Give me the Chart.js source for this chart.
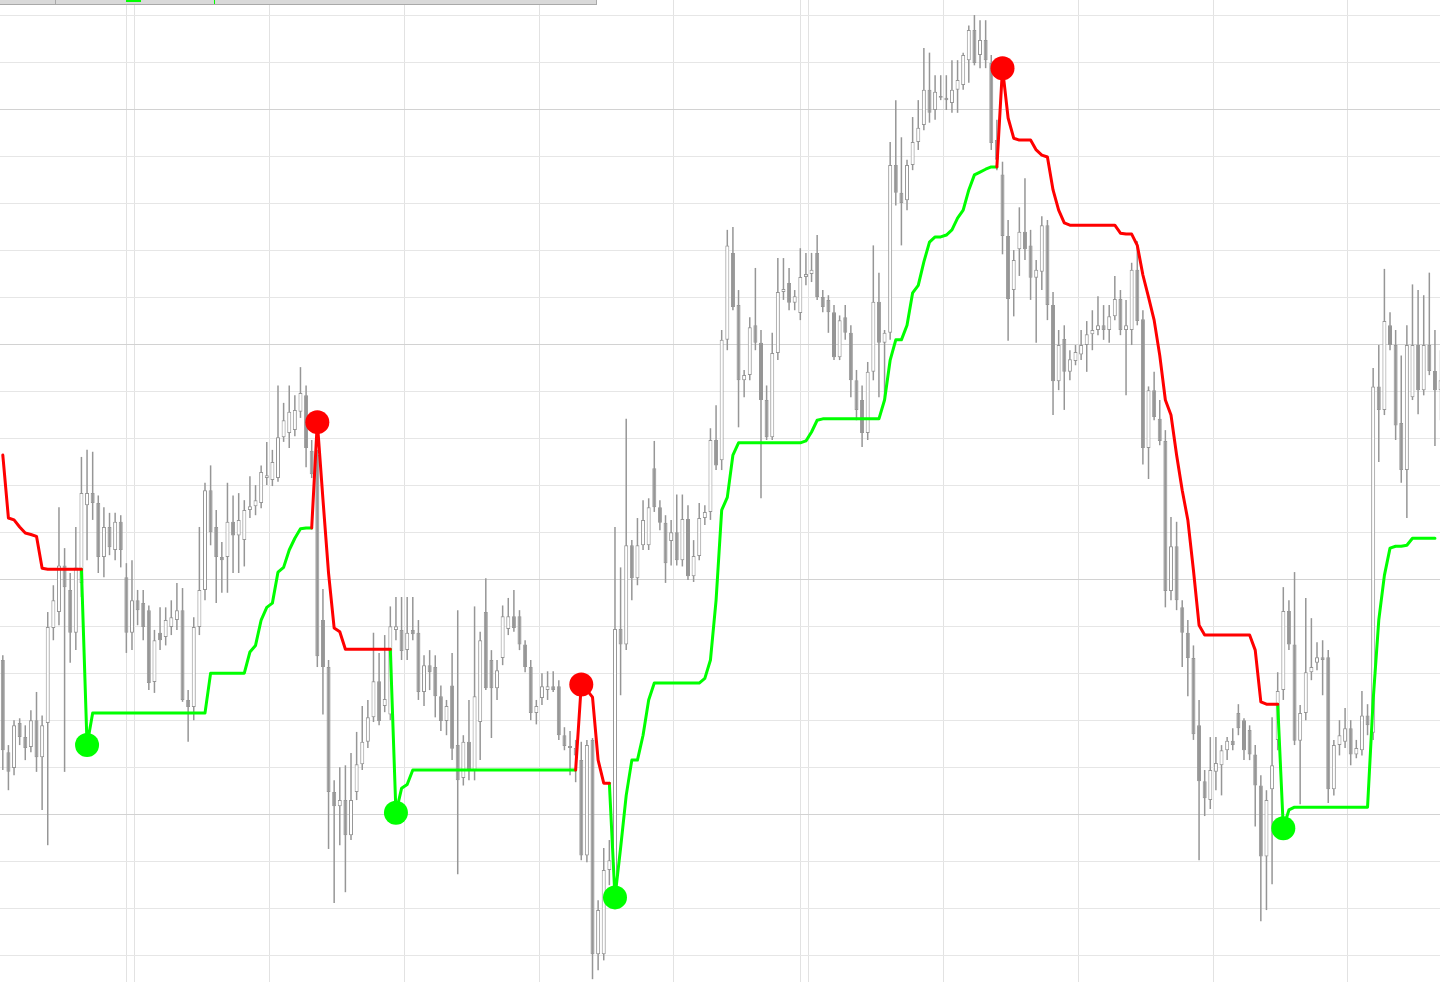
<!DOCTYPE html>
<html>
<head>
<meta charset="utf-8">
<title>Hourly candles with trailing stop</title>
<script src="https://cdn.jsdelivr.net/npm/chart.js@4.4.1/dist/chart.umd.min.js"></script>
<style>
  html, body { margin: 0; padding: 0; background: #ffffff; overflow: hidden; }
  #wrap { position: relative; width: 1440px; height: 982px; }
  #chart { position: absolute; left: 0; top: 0; }
  #toolbar { position: absolute; left: 0; top: 0; width: 596px; height: 4px; background: #d9d9d9;
             border-bottom: 1px solid #a9a9a9; border-right: 1px solid #a9a9a9; }
  #toolbar .sep { position: absolute; top: 0; width: 1px; height: 4px; background: #a9a9a9; }
  #toolbar .mark { position: absolute; top: 0; height: 2px; left: 126px; width: 15px; background: #00ff00; }
  #toolbar .tick { position: absolute; top: 0; left: 214px; width: 1px; height: 4px; background: #00ff00; }
</style>
</head>
<body>
<div id="wrap">
  <canvas id="chart" width="1440" height="982"></canvas>
  <div id="toolbar"><div class="sep" style="left:55px"></div><div class="mark"></div><div class="tick"></div></div>
</div>
<script>
// hourly OHLC, one entry per bar
var open = [
  1.30828, 1.30632, 1.30598, 1.30694, 1.30664, 1.30643, 1.30700, 1.30621, 1.30694, 1.30896,
  1.30930, 1.31029, 1.30977, 1.30886, 1.30992, 1.31157, 1.31183, 1.31162, 1.31047, 1.31111,
  1.31062, 1.31122, 1.31004, 1.30886, 1.30955, 1.30949, 1.30934, 1.30781, 1.30886, 1.30877,
  1.30898, 1.30913, 1.30934, 1.30743, 1.30728, 1.30898, 1.30977, 1.31189, 1.31111, 1.31047,
  1.31047, 1.31122, 1.31093, 1.31083, 1.31147, 1.31155, 1.31162, 1.31215, 1.31211, 1.31215,
  1.31302, 1.31311, 1.31317, 1.31356, 1.31391, 1.31273, 1.31264, 1.30913, 1.30813, 1.30547,
  1.30517, 1.30530, 1.30455, 1.30547, 1.30606, 1.30654, 1.30706, 1.30783, 1.30730, 1.30712,
  1.30892, 1.30892, 1.30849, 1.30892, 1.30886, 1.30760, 1.30817, 1.30813, 1.30751, 1.30698,
  1.30774, 1.30647, 1.30577, 1.30654, 1.30592, 1.30696, 1.30930, 1.30828, 1.30768, 1.30832,
  1.30894, 1.30921, 1.30921, 1.30861, 1.30813, 1.30715, 1.30747, 1.30764, 1.30772, 1.30772,
  1.30668, 1.30645, 1.30641, 1.30615, 1.30412, 1.30658, 1.30202, 1.30202, 1.30381, 1.30360,
  1.30894, 1.30861, 1.31072, 1.31002, 1.31072, 1.31072, 1.31236, 1.31153, 1.31120, 1.31081,
  1.31100, 1.31040, 1.31128, 1.31006, 1.31049, 1.31130, 1.31143, 1.31296, 1.31253, 1.31509,
  1.31694, 1.31583, 1.31423, 1.31434, 1.31540, 1.31503, 1.31381, 1.31302, 1.31481, 1.31611,
  1.31630, 1.31588, 1.31566, 1.31643, 1.31649, 1.31694, 1.31600, 1.31594, 1.31568, 1.31472,
  1.31557, 1.31524, 1.31423, 1.31381, 1.31311, 1.31441, 1.31590, 1.31503, 1.31524, 1.31881,
  1.31822, 1.31806, 1.31881, 1.31930, 1.31966, 1.32041, 1.31998, 1.32028, 1.32024, 1.32013,
  1.32041, 1.32051, 1.32104, 1.32168, 1.32115, 1.32147, 1.32098, 1.31934, 1.31861, 1.31730,
  1.31615, 1.31702, 1.31739, 1.31710, 1.31641, 1.31654, 1.31753, 1.31583, 1.31421, 1.31511,
  1.31441, 1.31464, 1.31478, 1.31498, 1.31521, 1.31530, 1.31540, 1.31530, 1.31559, 1.31596,
  1.31530, 1.31530, 1.31658, 1.31553, 1.31279, 1.31402, 1.31341, 1.31294, 1.30975, 1.31070,
  1.30940, 1.30886, 1.30832, 1.30689, 1.30570, 1.30530, 1.30590, 1.30604, 1.30636, 1.30656,
  1.30715, 1.30700, 1.30679, 1.30627, 1.30561, 1.30410, 1.30553, 1.30658, 1.30764, 1.30932,
  1.30861, 1.30656, 1.30715, 1.30802, 1.30822, 1.30834, 1.30834, 1.30553, 1.30647, 1.30654,
  1.30683, 1.30627, 1.30636, 1.30710, 1.30673, 1.31410, 1.31360, 1.31540, 1.31498, 1.31332,
  1.31232, 1.31387, 1.31498, 1.31402, 1.31498, 1.31443, 1.31402
];
var high = [
  1.30838, 1.30647, 1.30700, 1.30704, 1.30689, 1.30721, 1.30760, 1.30710, 1.30930, 1.30987,
  1.31153, 1.31066, 1.31013, 1.31111, 1.31260, 1.31275, 1.31271, 1.31178, 1.31153, 1.31141,
  1.31141, 1.31136, 1.31034, 1.31040, 1.30977, 1.30977, 1.30944, 1.30892, 1.30940, 1.30940,
  1.30955, 1.30992, 1.30981, 1.30764, 1.30919, 1.31111, 1.31205, 1.31242, 1.31147, 1.31079,
  1.31205, 1.31178, 1.31183, 1.31168, 1.31219, 1.31200, 1.31242, 1.31292, 1.31275, 1.31412,
  1.31375, 1.31412, 1.31391, 1.31451, 1.31412, 1.31296, 1.31275, 1.30979, 1.30828, 1.30572,
  1.30600, 1.30604, 1.30630, 1.30675, 1.30730, 1.30743, 1.30886, 1.30843, 1.30881, 1.30942,
  1.30962, 1.30962, 1.30962, 1.30962, 1.30913, 1.30838, 1.30849, 1.30838, 1.30774, 1.30743,
  1.30843, 1.30934, 1.30668, 1.30743, 1.30942, 1.30888, 1.31002, 1.30849, 1.30828, 1.30944,
  1.30960, 1.30977, 1.30934, 1.30870, 1.30828, 1.30743, 1.30800, 1.30804, 1.30804, 1.30785,
  1.30685, 1.30677, 1.30658, 1.30654, 1.30658, 1.30662, 1.30317, 1.30428, 1.30445, 1.31111,
  1.31025, 1.31341, 1.31083, 1.31130, 1.31168, 1.31172, 1.31294, 1.31168, 1.31136, 1.31126,
  1.31180, 1.31180, 1.31157, 1.31083, 1.31162, 1.31157, 1.31321, 1.31370, 1.31530, 1.31743,
  1.31749, 1.31615, 1.31445, 1.31557, 1.31662, 1.31530, 1.31412, 1.31524, 1.31683, 1.31683,
  1.31662, 1.31615, 1.31704, 1.31694, 1.31694, 1.31732, 1.31615, 1.31604, 1.31583, 1.31561,
  1.31583, 1.31540, 1.31445, 1.31412, 1.31462, 1.31710, 1.31652, 1.31530, 1.31930, 1.32019,
  1.31940, 1.31892, 1.31983, 1.32019, 1.32130, 1.32120, 1.32072, 1.32072, 1.32072, 1.32104,
  1.32104, 1.32120, 1.32178, 1.32200, 1.32189, 1.32189, 1.32115, 1.31977, 1.31888, 1.31764,
  1.31700, 1.31791, 1.31853, 1.31743, 1.31679, 1.31772, 1.31764, 1.31611, 1.31530, 1.31540,
  1.31487, 1.31498, 1.31530, 1.31549, 1.31572, 1.31602, 1.31583, 1.31583, 1.31645, 1.31615,
  1.31594, 1.31673, 1.31719, 1.31572, 1.31410, 1.31441, 1.31381, 1.31317, 1.31132, 1.31122,
  1.30955, 1.30913, 1.30859, 1.30743, 1.30594, 1.30664, 1.30664, 1.30647, 1.30664, 1.30683,
  1.30734, 1.30704, 1.30689, 1.30647, 1.30583, 1.30551, 1.30706, 1.30802, 1.30983, 1.30955,
  1.31015, 1.30732, 1.30960, 1.30917, 1.30866, 1.30870, 1.30849, 1.30658, 1.30700, 1.30726,
  1.30700, 1.30658, 1.30762, 1.30734, 1.31449, 1.31498, 1.31660, 1.31568, 1.31530, 1.31476,
  1.31540, 1.31627, 1.31615, 1.31604, 1.31652, 1.31530, 1.31487
];
var low = [
  1.30594, 1.30551, 1.30583, 1.30647, 1.30615, 1.30632, 1.30590, 1.30509, 1.30434, 1.30870,
  1.30902, 1.30590, 1.30822, 1.30849, 1.30962, 1.31040, 1.31126, 1.31013, 1.31004, 1.31051,
  1.31040, 1.31025, 1.30843, 1.30849, 1.30902, 1.30870, 1.30764, 1.30758, 1.30849, 1.30859,
  1.30881, 1.30892, 1.30739, 1.30654, 1.30700, 1.30881, 1.30955, 1.31072, 1.30949, 1.30971,
  1.30971, 1.31013, 1.31013, 1.31027, 1.31130, 1.31136, 1.31151, 1.31200, 1.31198, 1.31207,
  1.31292, 1.31279, 1.31304, 1.31343, 1.31238, 1.31215, 1.30813, 1.30712, 1.30426, 1.30311,
  1.30434, 1.30334, 1.30445, 1.30530, 1.30594, 1.30641, 1.30696, 1.30689, 1.30717, 1.30700,
  1.30870, 1.30828, 1.30828, 1.30870, 1.30743, 1.30730, 1.30764, 1.30706, 1.30677, 1.30668,
  1.30615, 1.30372, 1.30561, 1.30572, 1.30572, 1.30615, 1.30764, 1.30662, 1.30743, 1.30817,
  1.30881, 1.30888, 1.30849, 1.30802, 1.30700, 1.30691, 1.30732, 1.30743, 1.30760, 1.30658,
  1.30636, 1.30583, 1.30568, 1.30402, 1.30398, 1.30149, 1.30168, 1.30189, 1.30349, 1.30349,
  1.30753, 1.30849, 1.30955, 1.30987, 1.31062, 1.31062, 1.31143, 1.31104, 1.30992, 1.31029,
  1.31029, 1.31027, 1.30998, 1.30994, 1.31040, 1.31115, 1.31126, 1.31232, 1.31232, 1.31487,
  1.31572, 1.31323, 1.31387, 1.31423, 1.31487, 1.31172, 1.31296, 1.31296, 1.31466, 1.31594,
  1.31572, 1.31572, 1.31551, 1.31625, 1.31632, 1.31594, 1.31568, 1.31524, 1.31466, 1.31466,
  1.31509, 1.31387, 1.31338, 1.31281, 1.31296, 1.31423, 1.31387, 1.31387, 1.31509, 1.31795,
  1.31710, 1.31785, 1.31870, 1.31913, 1.31955, 1.31971, 1.31977, 1.32019, 1.31998, 1.31992,
  1.31992, 1.32041, 1.32056, 1.32093, 1.32087, 1.32087, 1.31913, 1.31870, 1.31691, 1.31507,
  1.31559, 1.31645, 1.31679, 1.31594, 1.31503, 1.31615, 1.31551, 1.31349, 1.31402, 1.31360,
  1.31423, 1.31455, 1.31466, 1.31441, 1.31487, 1.31519, 1.31509, 1.31503, 1.31551, 1.31519,
  1.31391, 1.31498, 1.31540, 1.31244, 1.31213, 1.31338, 1.31285, 1.30940, 1.30955, 1.30934,
  1.30813, 1.30751, 1.30658, 1.30402, 1.30496, 1.30511, 1.30551, 1.30540, 1.30615, 1.30636,
  1.30668, 1.30615, 1.30615, 1.30474, 1.30272, 1.30296, 1.30351, 1.30636, 1.30743, 1.30849,
  1.30647, 1.30521, 1.30700, 1.30785, 1.30806, 1.30753, 1.30524, 1.30540, 1.30625, 1.30641,
  1.30604, 1.30619, 1.30625, 1.30668, 1.30658, 1.31249, 1.31349, 1.31487, 1.31296, 1.31205,
  1.31130, 1.31381, 1.31351, 1.31391, 1.31434, 1.31283, 1.31338
];
var close = [
  1.30636, 1.30590, 1.30689, 1.30664, 1.30641, 1.30700, 1.30621, 1.30689, 1.30898, 1.30955,
  1.31029, 1.30983, 1.30886, 1.31025, 1.31183, 1.31183, 1.31162, 1.31047, 1.31111, 1.31068,
  1.31122, 1.31062, 1.30886, 1.30955, 1.30934, 1.30898, 1.30779, 1.30870, 1.30870, 1.30913,
  1.30919, 1.30934, 1.30743, 1.30728, 1.30898, 1.30977, 1.31189, 1.31100, 1.31047, 1.31040,
  1.31122, 1.31093, 1.31126, 1.31147, 1.31155, 1.31168, 1.31228, 1.31221, 1.31249, 1.31302,
  1.31338, 1.31356, 1.31360, 1.31396, 1.31279, 1.31223, 1.30836, 1.30813, 1.30547, 1.30517,
  1.30530, 1.30455, 1.30530, 1.30606, 1.30654, 1.30706, 1.30783, 1.30698, 1.30745, 1.30900,
  1.30900, 1.30847, 1.30886, 1.30883, 1.30760, 1.30817, 1.30802, 1.30751, 1.30698, 1.30730,
  1.30639, 1.30572, 1.30654, 1.30594, 1.30751, 1.30870, 1.30768, 1.30768, 1.30806, 1.30921,
  1.30921, 1.30896, 1.30861, 1.30813, 1.30715, 1.30730, 1.30772, 1.30772, 1.30764, 1.30668,
  1.30645, 1.30641, 1.30625, 1.30412, 1.30647, 1.30202, 1.30296, 1.30381, 1.30402, 1.30894,
  1.30861, 1.31072, 1.31002, 1.31072, 1.31126, 1.31153, 1.31153, 1.31120, 1.31034, 1.31100,
  1.31040, 1.31128, 1.31006, 1.31049, 1.31130, 1.31143, 1.31296, 1.31242, 1.31509, 1.31710,
  1.31579, 1.31423, 1.31434, 1.31536, 1.31503, 1.31381, 1.31302, 1.31481, 1.31611, 1.31617,
  1.31588, 1.31602, 1.31643, 1.31649, 1.31658, 1.31600, 1.31579, 1.31568, 1.31472, 1.31551,
  1.31524, 1.31423, 1.31360, 1.31311, 1.31441, 1.31590, 1.31503, 1.31524, 1.31881, 1.31822,
  1.31800, 1.31881, 1.31930, 1.31960, 1.32041, 1.31992, 1.32037, 1.32024, 1.32019, 1.32041,
  1.32062, 1.32115, 1.32168, 1.32098, 1.32147, 1.32104, 1.31928, 1.31892, 1.31730, 1.31596,
  1.31679, 1.31739, 1.31702, 1.31641, 1.31658, 1.31753, 1.31583, 1.31421, 1.31498, 1.31441,
  1.31468, 1.31483, 1.31498, 1.31521, 1.31530, 1.31540, 1.31530, 1.31559, 1.31596, 1.31530,
  1.31540, 1.31658, 1.31549, 1.31279, 1.31402, 1.31345, 1.31294, 1.30975, 1.31070, 1.30955,
  1.30886, 1.30832, 1.30670, 1.30570, 1.30534, 1.30594, 1.30609, 1.30636, 1.30656, 1.30647,
  1.30683, 1.30636, 1.30627, 1.30561, 1.30410, 1.30530, 1.30604, 1.30762, 1.30932, 1.30861,
  1.30656, 1.30715, 1.30802, 1.30813, 1.30834, 1.30828, 1.30553, 1.30647, 1.30668, 1.30683,
  1.30627, 1.30641, 1.30710, 1.30689, 1.31410, 1.31360, 1.31549, 1.31498, 1.31327, 1.31232,
  1.31498, 1.31498, 1.31402, 1.31498, 1.31443, 1.31402, 1.31423
];

// trailing stop level per bar
var stop = [
  1.31264, 1.31130, 1.31126, 1.31111, 1.31098, 1.31095, 1.31091, 1.31023, 1.31021, 1.31021,
  1.31021, 1.31021, 1.31021, 1.31021, 1.31021, 1.30647, 1.30715, 1.30715, 1.30715, 1.30715,
  1.30715, 1.30715, 1.30715, 1.30715, 1.30715, 1.30715, 1.30715, 1.30715, 1.30715, 1.30715,
  1.30715, 1.30715, 1.30715, 1.30715, 1.30715, 1.30715, 1.30715, 1.30800, 1.30800, 1.30800,
  1.30800, 1.30800, 1.30800, 1.30800, 1.30845, 1.30859, 1.30913, 1.30940, 1.30949, 1.31015,
  1.31025, 1.31062, 1.31087, 1.31107, 1.31109, 1.31109, 1.31334, 1.31170, 1.31013, 1.30896,
  1.30888, 1.30851, 1.30851, 1.30851, 1.30851, 1.30851, 1.30851, 1.30851, 1.30851, 1.30851,
  1.30503, 1.30555, 1.30563, 1.30594, 1.30594, 1.30594, 1.30594, 1.30594, 1.30594, 1.30594,
  1.30594, 1.30594, 1.30594, 1.30594, 1.30594, 1.30594, 1.30594, 1.30594, 1.30594, 1.30594,
  1.30594, 1.30594, 1.30594, 1.30594, 1.30594, 1.30594, 1.30594, 1.30594, 1.30594, 1.30594,
  1.30594, 1.30594, 1.30594, 1.30776, 1.30764, 1.30749, 1.30615, 1.30566, 1.30566, 1.30323,
  1.30428, 1.30540, 1.30615, 1.30615, 1.30668, 1.30743, 1.30779, 1.30779, 1.30779, 1.30779,
  1.30779, 1.30779, 1.30779, 1.30779, 1.30779, 1.30789, 1.30828, 1.30955, 1.31147, 1.31174,
  1.31264, 1.31290, 1.31290, 1.31290, 1.31290, 1.31290, 1.31290, 1.31290, 1.31290, 1.31290,
  1.31290, 1.31290, 1.31290, 1.31294, 1.31313, 1.31338, 1.31341, 1.31341, 1.31341, 1.31341,
  1.31341, 1.31341, 1.31341, 1.31341, 1.31341, 1.31341, 1.31341, 1.31381, 1.31466, 1.31509,
  1.31509, 1.31540, 1.31609, 1.31625, 1.31675, 1.31717, 1.31728, 1.31728, 1.31732, 1.31743,
  1.31768, 1.31785, 1.31828, 1.31860, 1.31866, 1.31872, 1.31877, 1.31877, 1.32087, 1.31981,
  1.31938, 1.31934, 1.31934, 1.31934, 1.31913, 1.31902, 1.31898, 1.31828, 1.31785, 1.31758,
  1.31753, 1.31753, 1.31753, 1.31753, 1.31753, 1.31753, 1.31753, 1.31753, 1.31753, 1.31736,
  1.31734, 1.31734, 1.31710, 1.31647, 1.31600, 1.31551, 1.31476, 1.31381, 1.31349, 1.31264,
  1.31189, 1.31126, 1.31019, 1.30902, 1.30881, 1.30881, 1.30881, 1.30881, 1.30881, 1.30881,
  1.30881, 1.30881, 1.30881, 1.30849, 1.30739, 1.30734, 1.30734, 1.30734, 1.30470, 1.30509,
  1.30515, 1.30515, 1.30515, 1.30515, 1.30515, 1.30515, 1.30515, 1.30515, 1.30515, 1.30515,
  1.30515, 1.30515, 1.30515, 1.30515, 1.30743, 1.30913, 1.31008, 1.31066, 1.31070, 1.31070,
  1.31072, 1.31087, 1.31087, 1.31087, 1.31087, 1.31087, null
];

// bars where the stop flips side
var buyBars = [15, 70, 109, 228];
var sellBars = [56, 103, 178];

// day starts (bar index) and the two session markers
var dayStarts = [24, 48, 72, 96, 120, 144, 168, 192, 216, 240];
var sessionMarks = [22.5, 142.5];

// price grid levels
var gridLevels = [
  1.302, 1.303, 1.304, 1.305, 1.306, 1.307, 1.308, 1.309, 1.310, 1.311, 1.312,
  1.313, 1.314, 1.315, 1.316, 1.317, 1.318, 1.319, 1.320, 1.321, 1.322
];
var majorLevels = [1.305, 1.310, 1.315, 1.320];

var priceMin = 1.30143;
var priceMax = 1.32232;

var candleGray = '#969696';
var upColor = '#00ff00';
var downColor = '#ff0000';

// trend per bar: -1 stop above price, 1 stop below price
var trend = [];
var dir = -1;
for (var i = 0; i < stop.length; i++) {
    if (buyBars.indexOf(i) >= 0) dir = 1;
    if (sellBars.indexOf(i) >= 0) dir = -1;
    trend.push(dir);
}

function stopLine(d) {
    return stop.map(function (v, i) {
        var on = trend[i] === d || (trend[i + 1] === d && trend[i] !== d);
        return { x: i + 0.5, y: on ? v : null };
    });
}

var wicks = open.map(function (o, i) { return { x: i + 0.5, y: [low[i], high[i]] }; });
var bodies = open.map(function (o, i) {
    return { x: i + 0.5, y: [Math.min(o, close[i]), Math.max(o, close[i])] };
});
var bodyFill = open.map(function (o, i) { return close[i] >= o ? '#ffffff' : candleGray; });

var ctx = document.getElementById('chart').getContext('2d');
var chart = new Chart(ctx, {
    type: 'bar',
    data: {
        datasets: [
            {
                label: 'Signal sell',
                type: 'line',
                data: sellBars.map(function (i) { return { x: i + 0.5, y: stop[i] }; }),
                showLine: false,
                pointRadius: 12,
                pointHoverRadius: 12,
                pointBorderWidth: 0,
                pointBackgroundColor: downColor,
                clip: false,
                order: 0
            },
            {
                label: 'Signal buy',
                type: 'line',
                data: buyBars.map(function (i) { return { x: i + 0.5, y: stop[i] }; }),
                showLine: false,
                pointRadius: 12,
                pointHoverRadius: 12,
                pointBorderWidth: 0,
                pointBackgroundColor: upColor,
                clip: false,
                order: 0
            },
            {
                label: 'Stop down',
                type: 'line',
                data: stopLine(-1),
                borderColor: downColor,
                borderWidth: 3,
                borderJoinStyle: 'round',
                borderCapStyle: 'round',
                pointRadius: 0,
                spanGaps: false,
                tension: 0,
                order: 1
            },
            {
                label: 'Stop up',
                type: 'line',
                data: stopLine(1),
                borderColor: upColor,
                borderWidth: 3,
                borderJoinStyle: 'round',
                borderCapStyle: 'round',
                pointRadius: 0,
                spanGaps: false,
                tension: 0,
                order: 1
            },
            {
                label: 'Body',
                data: bodies,
                backgroundColor: bodyFill,
                borderColor: candleGray,
                borderWidth: 1,
                borderSkipped: false,
                inflateAmount: 0,
                grouped: false,
                categoryPercentage: 1,
                barPercentage: 1,
                maxBarThickness: 4,
                order: 2
            },
            {
                label: 'Wick',
                data: wicks,
                backgroundColor: candleGray,
                borderWidth: 0,
                inflateAmount: 0,
                grouped: false,
                categoryPercentage: 1,
                barPercentage: 1,
                maxBarThickness: 1.5,
                order: 3
            }
        ]
    },
    options: {
        responsive: false,
        animation: false,
        devicePixelRatio: 1,
        layout: { padding: 0, autoPadding: false },
        plugins: { legend: { display: false }, tooltip: { enabled: false } },
        scales: {
            x: {
                type: 'linear',
                min: 0,
                max: 256.4,
                bounds: 'data',
                offset: false,
                ticks: { display: false },
                grid: { offset: false, color: '#e2e2e2', drawTicks: false },
                border: { display: false },
                afterBuildTicks: function (scale) {
                    scale.ticks = dayStarts.concat(sessionMarks).map(function (v) { return { value: v }; });
                }
            },
            y: {
                type: 'linear',
                min: priceMin,
                max: priceMax,
                bounds: 'data',
                beginAtZero: false,
                ticks: { display: false },
                grid: {
                    drawTicks: false,
                    color: function (c) {
                        var v = c.tick ? c.tick.value : 0;
                        return majorLevels.indexOf(v) >= 0 ? '#d2d2d2' : '#e6e6e6';
                    }
                },
                border: { display: false },
                afterBuildTicks: function (scale) {
                    scale.ticks = gridLevels.map(function (v) { return { value: v }; });
                }
            }
        }
    }
});
</script>
</body>
</html>
